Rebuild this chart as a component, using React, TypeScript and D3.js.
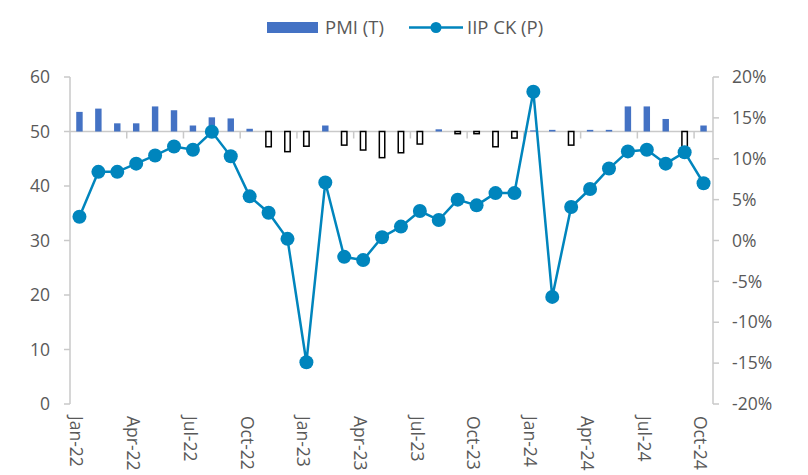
import React from "react";
import * as d3 from "d3";

const months = [
  "Jan-22","Feb-22","Mar-22","Apr-22","May-22","Jun-22","Jul-22","Aug-22","Sep-22","Oct-22","Nov-22","Dec-22",
  "Jan-23","Feb-23","Mar-23","Apr-23","May-23","Jun-23","Jul-23","Aug-23","Sep-23","Oct-23","Nov-23","Dec-23",
  "Jan-24","Feb-24","Mar-24","Apr-24","May-24","Jun-24","Jul-24","Aug-24","Sep-24","Oct-24",
];
const pmi = [
  53.6, 54.2, 51.5, 51.5, 54.6, 53.9, 51.1, 52.6, 52.4, 50.5, 47.2, 46.3,
  47.3, 51.1, 47.5, 46.6, 45.2, 46.1, 47.7, 50.4, 49.6, 49.6, 47.2, 48.8,
  50.2, 50.3, 47.5, 50.3, 50.3, 54.6, 54.6, 52.3, 47.2, 51.1,
];
const iip = [
  2.9, 8.4, 8.4, 9.4, 10.4, 11.5, 11.1, 13.3, 10.3, 5.4, 3.4, 0.2,
  -14.9, 7.1, -2.0, -2.4, 0.4, 1.7, 3.6, 2.5, 5.0, 4.3, 5.8, 5.8,
  18.2, -6.9, 4.1, 6.3, 8.8, 10.9, 11.1, 9.4, 10.8, 7.0,
];
const leftTicks = [0, 10, 20, 30, 40, 50, 60];
const rightTicks = [-20, -15, -10, -5, 0, 5, 10, 15, 20];
const labelEvery = 3;

const W = 808, H = 475;
const plotL = 70, plotR = 713, plotT = 77, plotB = 404;
const textColor = "#595959";
const axisColor = "#c9c9c9";
const lineColor = "#0085bd";
const barColor = "#4472c4";
const font = "'Open Sans', 'Noto Sans', sans-serif";
const fs = 17.5;

export default function App() {
  const x = d3.scaleBand<string>().domain(months).range([plotL, plotR]).paddingInner(0).paddingOuter(0);
  const yL = d3.scaleLinear().domain([0, 60]).range([plotB, plotT]);
  const yR = d3.scaleLinear().domain([-20, 20]).range([plotB, plotT]);
  const bw = x.bandwidth();
  const barW = bw * 0.34;
  const cx = (m: string) => (x(m) as number) + bw / 2;
  const base = yL(50);

  const line = d3
    .line<number>()
    .x((_, i) => cx(months[i]))
    .y((d) => yR(d));

  return (
    <svg width={W} height={H} style={{ position: "absolute", left: 0, top: 0, background: "#fff" }} fontFamily={font}>
      {/* Legend */}
      <rect x={267} y={22} width={51} height={11} fill={barColor} />
      <text x={325} y={33.5} fontSize={18.5} fill={textColor}>PMI (T)</text>
      <line x1={409} x2={463} y1={27.5} y2={27.5} stroke={lineColor} strokeWidth={2.5} />
      <circle cx={436} cy={27.5} r={5.5} fill={lineColor} />
      <text x={467} y={33.5} fontSize={18.5} fill={textColor}>IIP CK (P)</text>

      {/* Left axis */}
      <line x1={plotL} x2={plotL} y1={plotT} y2={plotB} stroke={axisColor} strokeWidth={1.5} />
      {leftTicks.map((t) => (
        <g key={"l" + t}>
          <line x1={plotL - 6} x2={plotL} y1={yL(t)} y2={yL(t)} stroke={axisColor} strokeWidth={1.5} />
          <text x={50} y={yL(t)} dy="0.35em" textAnchor="end" fontSize={fs} fill={textColor}>{t}</text>
        </g>
      ))}
      {/* Right axis */}
      <line x1={plotR} x2={plotR} y1={plotT} y2={plotB} stroke={axisColor} strokeWidth={1.5} />
      {rightTicks.map((t) => (
        <g key={"r" + t}>
          <line x1={plotR} x2={plotR + 6} y1={yR(t)} y2={yR(t)} stroke={axisColor} strokeWidth={1.5} />
          <text x={732} y={yR(t)} dy="0.35em" textAnchor="start" fontSize={fs} fill={textColor}>{t + "%"}</text>
        </g>
      ))}

      {/* Category axis at 50 */}
      <line x1={plotL} x2={plotR} y1={base} y2={base} stroke={axisColor} strokeWidth={1.5} />
      {months.map((m, i) =>
        i % labelEvery === 0 && i > 0 ? (
          <line key={"t" + m} x1={x(m) as number} x2={x(m) as number} y1={base} y2={base + 7} stroke={axisColor} strokeWidth={1.5} />
        ) : null
      )}
      {months.map((m, i) =>
        i % labelEvery === 0 ? (
          <text
            key={"xl" + m}
            transform={`translate(${cx(m) - 3},${plotB + 12}) rotate(90)`}
            dy="0.35em"
            fontSize={fs}
            fill={textColor}
          >
            {m}
          </text>
        ) : null
      )}

      {/* Bars */}
      {pmi.map((v, i) => {
        const m = months[i];
        const y0 = Math.min(yL(v), base);
        const h = Math.abs(yL(v) - base);
        return v >= 50 ? (
          <rect key={"b" + m} x={cx(m) - barW / 2} y={y0} width={barW} height={h} fill={barColor} />
        ) : (
          <rect key={"b" + m} x={cx(m) - barW / 2 + 0.5} y={y0} width={barW - 1} height={h} fill="#fff" stroke="#000" strokeWidth={1.5} />
        );
      })}

      {/* Line */}
      <path d={line(iip) || ""} fill="none" stroke={lineColor} strokeWidth={2.5} />
      {iip.map((v, i) => (
        <circle key={"c" + i} cx={cx(months[i])} cy={yR(v)} r={7} fill={lineColor} />
      ))}
    </svg>
  );
}
